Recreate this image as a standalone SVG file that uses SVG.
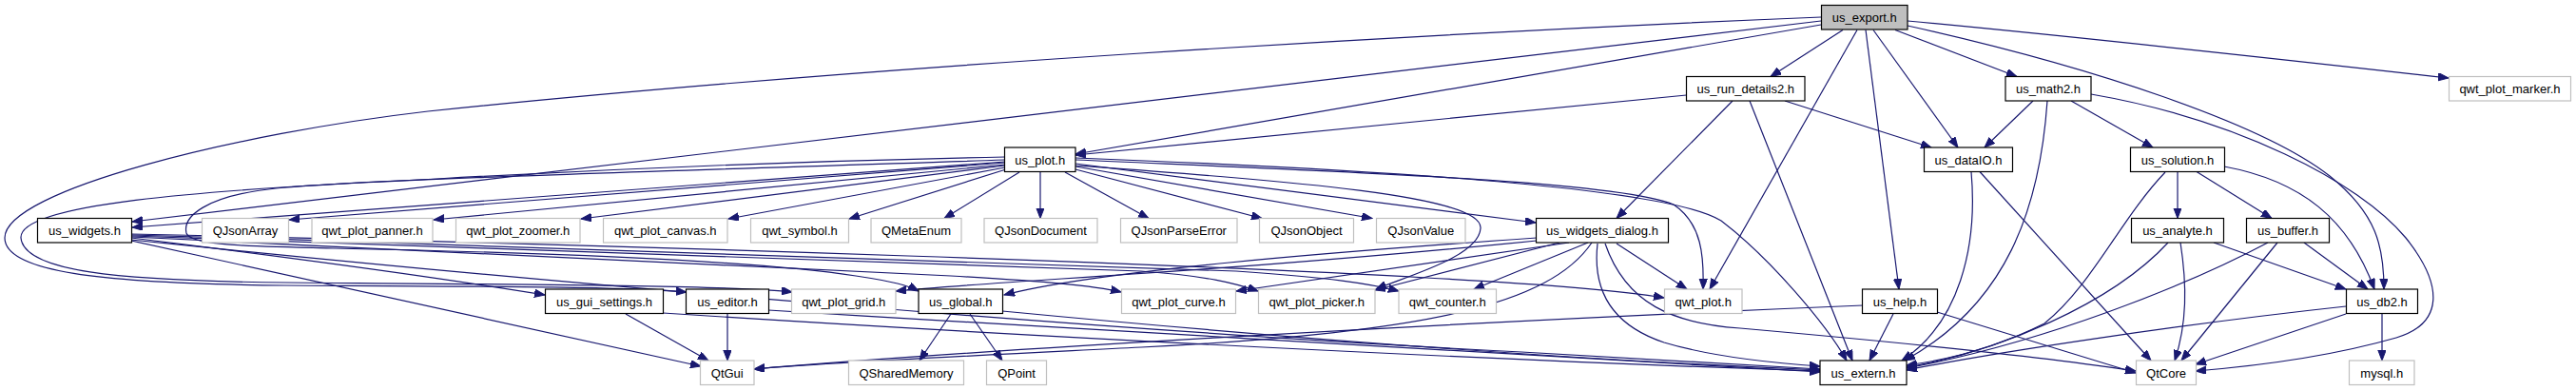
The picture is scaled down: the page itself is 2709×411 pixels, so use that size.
<svg xmlns="http://www.w3.org/2000/svg" width="2709" height="411" viewBox="0 0 2709 411">
<style>
.n rect{fill:#fff;stroke:#000;stroke-width:1.2}
.n.x rect{stroke:#bfbfbf}
.n.r rect{fill:#bfbfbf}
text{font-family:"Liberation Sans",Arial,Helvetica,sans-serif;font-size:13px;text-anchor:middle;fill:#000}
#edges path{fill:none;stroke:#191970;stroke-width:1.2;marker-end:url(#a)}
</style>
<defs>
<marker id="a" markerWidth="12" markerHeight="9" refX="11" refY="4.2" orient="auto" markerUnits="userSpaceOnUse"><path d="M0,0 L11,4.2 L0,8.4 z" fill="#191970" stroke="#191970" stroke-width="1"/></marker>
</defs>
<rect width="2709" height="411" fill="#fff"/>
<g id="edges">
<path d="M1938,31.5 L1862,80.5"/>
<path d="M1993,31.5 L2121,80.5"/>
<path d="M2006,22 C2200,40 2450,68 2575,82"/>
<path d="M1970,31.5 L2059,155"/>
<path d="M1962,31.5 L1997,304"/>
<path d="M1953,31.5 L1798,304"/>
<path d="M2006,27 C2200,70 2380,130 2450,185 C2500,225 2507,260 2507,304"/>
<path d="M1915,26 L1131,162"/>
<path d="M1915,22 L139,233"/>
<path d="M1915,18 C1500,35 900,70 450,117 C250,140 5,200 5,250 C5,285 100,298 300,300 C500,301 650,301 722,307"/>
<path d="M1057,165 C800,170 600,180 460,188 C200,200 20,215 22,250 C25,285 120,295 300,297 C550,299 780,300 833,307"/>
<path d="M1057,168 C700,180 400,188 290,198 C215,206 192,228 196,245 C200,258 260,259 350,261 C600,266 800,275 900,290 C940,296 955,300 966,306"/>
<path d="M1057,170 L139,239"/>
<path d="M1057,171 L304,231"/>
<path d="M1057,173 L456,231"/>
<path d="M1057,174 L611,230"/>
<path d="M1057,176 L766,230"/>
<path d="M1058,178 L893,230"/>
<path d="M1072,181 L993,229.5"/>
<path d="M1094,181 L1094,229.5"/>
<path d="M1120,181 L1208,229.5"/>
<path d="M1131,178 L1327,229.5"/>
<path d="M1131,175 L1443,229.5"/>
<path d="M1131,172 L1615,234"/>
<path d="M1131,168 C1400,180 1700,190 1760,215 C1790,235 1792,270 1791,304"/>
<path d="M1131,174 C1350,190 1560,205 1557,240 C1555,270 1480,290 1447,304"/>
<path d="M1131,166 C1500,180 1760,200 1810,232 C1860,270 1920,340 1942,379"/>
<path d="M138,253 L737,385"/>
<path d="M138,250 C300,270 450,290 573,310"/>
<path d="M138,249 C400,262 800,280 1000,290 C1100,296 1150,300 1179,307"/>
<path d="M138,248 C500,262 1000,275 1200,285 C1270,290 1300,298 1323,306"/>
<path d="M138,247 C600,260 1100,275 1300,285 C1400,292 1440,298 1471,306"/>
<path d="M138,246 C700,258 1300,280 1500,292 C1650,300 1720,308 1750,313"/>
<path d="M138,252 C600,300 1200,350 1600,370 C1750,378 1850,385 1914,388"/>
<path d="M1616,250 C1400,265 1150,285 1056,310"/>
<path d="M1616,253 C1300,285 1050,295 942,306"/>
<path d="M1650,255 L1300,306"/>
<path d="M1640,255 L1446,305"/>
<path d="M1670,255 L1550,304"/>
<path d="M1674,255 C1630,320 1500,350 1200,365 C1000,375 850,382 793,388"/>
<path d="M1680,256 C1675,300 1690,340 1750,360 C1800,375 1870,382 1914,385"/>
<path d="M1688,256 C1710,320 1760,340 1830,345 C2000,360 2150,375 2246,390"/>
<path d="M1700,256 L1774,304"/>
<path d="M1773.5,100 L1131,163"/>
<path d="M1822,106 L1700,229.5"/>
<path d="M1877,106 L2031,155"/>
<path d="M1840,106 L1948,379"/>
<path d="M2138,106 L2087,155"/>
<path d="M2178,106 L2264,155"/>
<path d="M2153,106 C2145,220 2110,320 2003,379"/>
<path d="M2199,99 C2350,125 2480,190 2530,250 C2570,300 2570,340 2520,355 C2450,375 2370,385 2309,390"/>
<path d="M2073,180.5 C2080,260 2060,340 2000,379"/>
<path d="M2082,180.5 L2262,379"/>
<path d="M2290,180.5 L2290,229.5"/>
<path d="M2310,180.5 L2389,229.5"/>
<path d="M2339,175 C2420,190 2470,230 2497,304"/>
<path d="M2277,181 C2230,230 2200,300 2150,340 C2100,365 2050,378 2005,384"/>
<path d="M2328,255 L2467,304"/>
<path d="M2293,255 C2300,300 2300,340 2287,379"/>
<path d="M2280,255 C2220,320 2100,370 2005,386"/>
<path d="M2423,255 L2490,304"/>
<path d="M2395,255 L2294,379"/>
<path d="M2385,255 C2300,300 2150,360 2005,387"/>
<path d="M2505,330 L2505,379"/>
<path d="M2467,330 L2309,383"/>
<path d="M2467,322 C2300,340 2100,370 2005,389"/>
<path d="M1991,330 L1966,379"/>
<path d="M2037,328 L2246,392"/>
<path d="M1959,321 C1500,340 1000,370 793,388"/>
<path d="M1000,330 L967,379"/>
<path d="M1020,330 L1054,379"/>
<path d="M1054,327 C1400,360 1700,380 1914,389"/>
<path d="M658,330 L745,379"/>
<path d="M697,329 C1100,355 1600,380 1914,390"/>
<path d="M765,330 L765,379"/>
<path d="M808,326 C1200,350 1600,375 1914,391"/>
</g>
<g id="n-us_export" class="n r"><rect x="1915.5" y="5.5" width="90.5" height="25.5"/><text x="1960.75" y="23">us_export.h</text></g>
<g id="n-us_run_details2" class="n"><rect x="1773.5" y="80.5" width="124.5" height="25.5"/><text x="1835.75" y="98">us_run_details2.h</text></g>
<g id="n-us_math2" class="n"><rect x="2109" y="80.5" width="90" height="25.5"/><text x="2154" y="98">us_math2.h</text></g>
<g id="n-qwt_plot_marker" class="n x"><rect x="2575.5" y="80.5" width="128" height="25.5"/><text x="2639.5" y="98">qwt_plot_marker.h</text></g>
<g id="n-us_plot" class="n"><rect x="1056.5" y="155" width="74.5" height="25.5"/><text x="1093.75" y="172.5">us_plot.h</text></g>
<g id="n-us_dataIO" class="n"><rect x="2023.5" y="155" width="93" height="25.5"/><text x="2070" y="172.5">us_dataIO.h</text></g>
<g id="n-us_solution" class="n"><rect x="2240.5" y="155" width="99" height="25.5"/><text x="2290" y="172.5">us_solution.h</text></g>
<g id="n-us_widgets" class="n"><rect x="39.5" y="229.5" width="99" height="25.5"/><text x="89" y="247">us_widgets.h</text></g>
<g id="n-QJsonArray" class="n x"><rect x="212.5" y="229.5" width="91" height="25.5"/><text x="258" y="247">QJsonArray</text></g>
<g id="n-qwt_plot_panner" class="n x"><rect x="328" y="229.5" width="127" height="25.5"/><text x="391.5" y="247">qwt_plot_panner.h</text></g>
<g id="n-qwt_plot_zoomer" class="n x"><rect x="479.5" y="229.5" width="130.5" height="25.5"/><text x="544.75" y="247">qwt_plot_zoomer.h</text></g>
<g id="n-qwt_plot_canvas" class="n x"><rect x="634.5" y="229.5" width="130.5" height="25.5"/><text x="699.75" y="247">qwt_plot_canvas.h</text></g>
<g id="n-qwt_symbol" class="n x"><rect x="789.5" y="229.5" width="103" height="25.5"/><text x="841" y="247">qwt_symbol.h</text></g>
<g id="n-QMetaEnum" class="n x"><rect x="916" y="229.5" width="95" height="25.5"/><text x="963.5" y="247">QMetaEnum</text></g>
<g id="n-QJsonDocument" class="n x"><rect x="1035" y="229.5" width="119" height="25.5"/><text x="1094.5" y="247">QJsonDocument</text></g>
<g id="n-QJsonParseError" class="n x"><rect x="1178.5" y="229.5" width="122.5" height="25.5"/><text x="1239.75" y="247">QJsonParseError</text></g>
<g id="n-QJsonObject" class="n x"><rect x="1324.5" y="229.5" width="99" height="25.5"/><text x="1374" y="247">QJsonObject</text></g>
<g id="n-QJsonValue" class="n x"><rect x="1447.5" y="229.5" width="93.5" height="25.5"/><text x="1494.25" y="247">QJsonValue</text></g>
<g id="n-us_widgets_dialog" class="n"><rect x="1615.5" y="229.5" width="139" height="25.5"/><text x="1685" y="247">us_widgets_dialog.h</text></g>
<g id="n-us_analyte" class="n"><rect x="2241.5" y="229.5" width="97" height="25.5"/><text x="2290" y="247">us_analyte.h</text></g>
<g id="n-us_buffer" class="n"><rect x="2362.5" y="229.5" width="87" height="25.5"/><text x="2406" y="247">us_buffer.h</text></g>
<g id="n-us_gui_settings" class="n"><rect x="573.5" y="304" width="124" height="25.5"/><text x="635.5" y="321.5">us_gui_settings.h</text></g>
<g id="n-us_editor" class="n"><rect x="721.5" y="304" width="87" height="25.5"/><text x="765" y="321.5">us_editor.h</text></g>
<g id="n-qwt_plot_grid" class="n x"><rect x="832.5" y="304" width="109.5" height="25.5"/><text x="887.25" y="321.5">qwt_plot_grid.h</text></g>
<g id="n-us_global" class="n"><rect x="966" y="304" width="88.5" height="25.5"/><text x="1010.25" y="321.5">us_global.h</text></g>
<g id="n-qwt_plot_curve" class="n x"><rect x="1179.5" y="304" width="120" height="25.5"/><text x="1239.5" y="321.5">qwt_plot_curve.h</text></g>
<g id="n-qwt_plot_picker" class="n x"><rect x="1323.5" y="304" width="122.5" height="25.5"/><text x="1384.75" y="321.5">qwt_plot_picker.h</text></g>
<g id="n-qwt_counter" class="n x"><rect x="1471" y="304" width="102.5" height="25.5"/><text x="1522.25" y="321.5">qwt_counter.h</text></g>
<g id="n-qwt_plot" class="n x"><rect x="1750.5" y="304" width="81.5" height="25.5"/><text x="1791.25" y="321.5">qwt_plot.h</text></g>
<g id="n-us_help" class="n"><rect x="1958.5" y="304" width="79" height="25.5"/><text x="1998" y="321.5">us_help.h</text></g>
<g id="n-us_db2" class="n"><rect x="2467.5" y="304" width="75" height="25.5"/><text x="2505" y="321.5">us_db2.h</text></g>
<g id="n-QtGui" class="n x"><rect x="736.5" y="379" width="56.5" height="25.5"/><text x="764.75" y="396.5">QtGui</text></g>
<g id="n-QSharedMemory" class="n x"><rect x="892.5" y="379" width="121" height="25.5"/><text x="953" y="396.5">QSharedMemory</text></g>
<g id="n-QPoint" class="n x"><rect x="1037.5" y="379" width="63" height="25.5"/><text x="1069" y="396.5">QPoint</text></g>
<g id="n-us_extern" class="n"><rect x="1914" y="379" width="91" height="25.5"/><text x="1959.5" y="396.5">us_extern.h</text></g>
<g id="n-QtCore" class="n x"><rect x="2246.5" y="379" width="63" height="25.5"/><text x="2278" y="396.5">QtCore</text></g>
<g id="n-mysql" class="n x"><rect x="2470.5" y="379" width="68.5" height="25.5"/><text x="2504.75" y="396.5">mysql.h</text></g>
</svg>
